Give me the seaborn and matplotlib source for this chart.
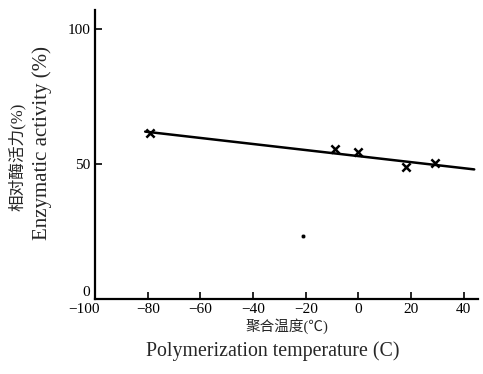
import matplotlib
matplotlib.use("Agg")
import matplotlib.pyplot as plt
import matplotlib.transforms as mtransforms
import seaborn as sns
import pandas as pd

# Data
temps = [-79, -9, 0, 18, 29]
activity = [61.5, 55.5, 54.5, 49, 50.5]
line_x = [-81, 44]
line_y = [62.0, 48.0]
stray_x = [-21]
stray_y = [23.5]
xticks = [-100, -80, -60, -40, -20, 0, 20, 40]
yticks = [0, 50, 100]

sns.set_theme(style="ticks")
plt.rcParams['font.family'] = ['Liberation Serif', 'Noto Sans CJK SC']

W, H = 483, 374
fig = plt.figure(figsize=(W / 100, H / 100), dpi=100)
ax = fig.add_axes([0.197, 0.2005, 0.793, 0.7725])

pts = pd.DataFrame({"t": temps, "a": activity})
ln = pd.DataFrame({"t": line_x, "a": line_y})
sns.lineplot(data=ln, x="t", y="a", color="black", linewidth=1.8, ax=ax)
sns.scatterplot(data=pts, x="t", y="a", marker="x", s=35, color="black",
                linewidth=1.8, ax=ax, zorder=3)
sns.scatterplot(x=stray_x, y=stray_y, s=10, color="black", ax=ax, zorder=3)

ax.set_xlim(-100, 45.5)
ax.set_ylim(0, 107)
ax.set_xticks(xticks)
ax.set_xticklabels(["\u2212" + str(abs(v)) if v < 0 else str(v) for v in xticks])
ax.set_yticks(yticks)
ax.tick_params(direction="in", length=5, width=1.2, labelsize=11, colors="black")
ax.tick_params(axis="x", pad=3)
for s in ["top", "right"]:
    ax.spines[s].set_visible(False)
for s in ["left", "bottom"]:
    ax.spines[s].set_linewidth(1.6)
    ax.spines[s].set_color("black")

# nudge the y "0" label up and the x "-100" label left, as in the reference
fig.canvas.draw()
ylab0 = ax.get_yticklabels()[0]
ylab0.set_transform(ylab0.get_transform() +
                    mtransforms.ScaledTranslation(0, 6 / 72, fig.dpi_scale_trans))
xlab0 = ax.get_xticklabels()[0]
xlab0.set_transform(xlab0.get_transform() +
                    mtransforms.ScaledTranslation(-8 / 72, 0, fig.dpi_scale_trans))

ax.set_xlabel("")
ax.set_ylabel("")
fig.text(17 / W, 1 - 157 / H, "相对酶活力(%)", rotation=90, fontsize=12,
         ha="center", va="center")
fig.text(42 / W, 1 - 143 / H, "Enzymatic activity (%)", rotation=90, fontsize=15,
         ha="center", va="center")
fig.text(287 / W, 1 - 326 / H, "聚合温度(℃)", fontsize=10.5,
         ha="center", va="center")
fig.text(273 / W, 1 - 351 / H, "Polymerization temperature (C)", fontsize=14.3,
         ha="center", va="center")

fig.savefig("out.png", dpi=100)
